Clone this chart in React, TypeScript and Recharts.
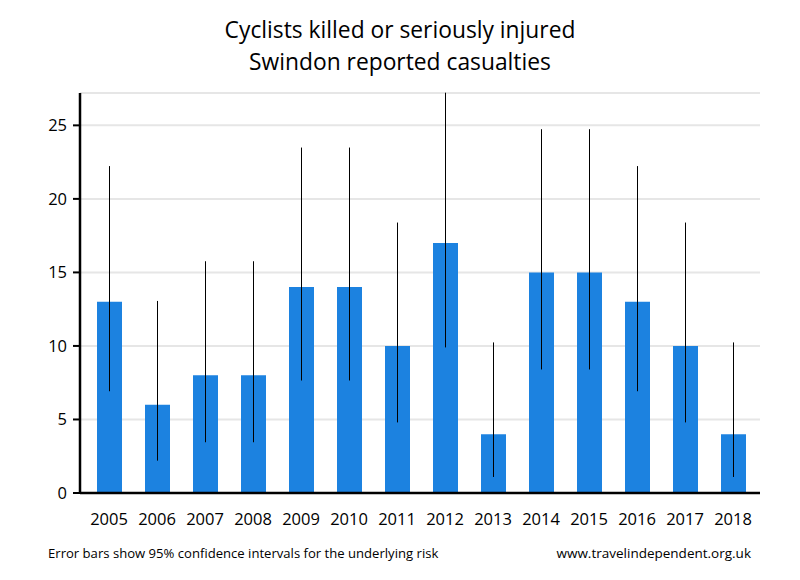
import React from "react";
import { BarChart, Bar, XAxis, YAxis, CartesianGrid, ErrorBar } from "recharts";

const years = ["2005", "2006", "2007", "2008", "2009", "2010", "2011", "2012", "2013", "2014", "2015", "2016", "2017", "2018"];
const casualties = [13, 6, 8, 8, 14, 14, 10, 17, 4, 15, 15, 13, 10, 4];
const lowerCI = [6.92, 2.2, 3.45, 3.45, 7.65, 7.65, 4.8, 9.9, 1.09, 8.4, 8.4, 6.92, 4.8, 1.09];
const upperCI = [22.23, 13.06, 15.76, 15.76, 23.49, 23.49, 18.39, 27.22, 10.24, 24.74, 24.74, 22.23, 18.39, 10.24];
const yTicks = [0, 5, 10, 15, 20, 25];

const data = years.map((y, i) => ({
  year: y,
  value: casualties[i],
  err: [casualties[i] - lowerCI[i], upperCI[i] - casualties[i]],
}));

const FONT = "'Open Sans', 'Noto Sans', sans-serif";

export default function App() {
  return (
    <div style={{ position: "absolute", left: 0, top: 0, width: 800, height: 580, background: "#fff", fontFamily: FONT }}>
      <div style={{ position: "absolute", left: 0, top: 14, width: 800, textAlign: "center", fontSize: 22.8, lineHeight: "32px", color: "#000" }}>
        Cyclists killed or seriously injured
        <br />
        Swindon reported casualties
      </div>
      <BarChart
        width={800}
        height={580}
        data={data}
        margin={{ top: 93, right: 40, bottom: 57, left: 20 }}
        barCategoryGap={0}
      >
        <CartesianGrid vertical={false} stroke="#e6e6e6" strokeWidth={2} />
        <XAxis
          dataKey="year"
          axisLine={{ stroke: "#000", strokeWidth: 2.5 }}
          tickLine={false}
          tickSize={0}
          tickMargin={20}
          height={30}
          padding={{ left: 5, right: 3 }}
          tick={{ fill: "#000", fontSize: 16.5, fontFamily: FONT }}
          interval={0}
        />
        <YAxis
          domain={[0, 27.2]}
          ticks={yTicks}
          width={60}
          axisLine={{ stroke: "#000", strokeWidth: 2.5 }}
          tickLine={{ stroke: "#000", strokeWidth: 2 }}
          tickSize={7}
          tickMargin={6}
          tick={{ fill: "#000", fontSize: 16.5, fontFamily: FONT }}
          allowDataOverflow
        />
        <Bar dataKey="value" fill="#1c82e0" barSize={25} isAnimationActive={false}>
          <ErrorBar dataKey="err" width={0} stroke="#000" strokeWidth={1} direction="y" />
        </Bar>
      </BarChart>
      <div style={{ position: "absolute", left: 48, top: 544, fontSize: 13.1, color: "#000" }}>
        Error bars show 95% confidence intervals for the underlying risk
      </div>
      <div style={{ position: "absolute", right: 49, top: 544, fontSize: 13.5, color: "#000" }}>
        www.travelindependent.org.uk
      </div>
    </div>
  );
}
